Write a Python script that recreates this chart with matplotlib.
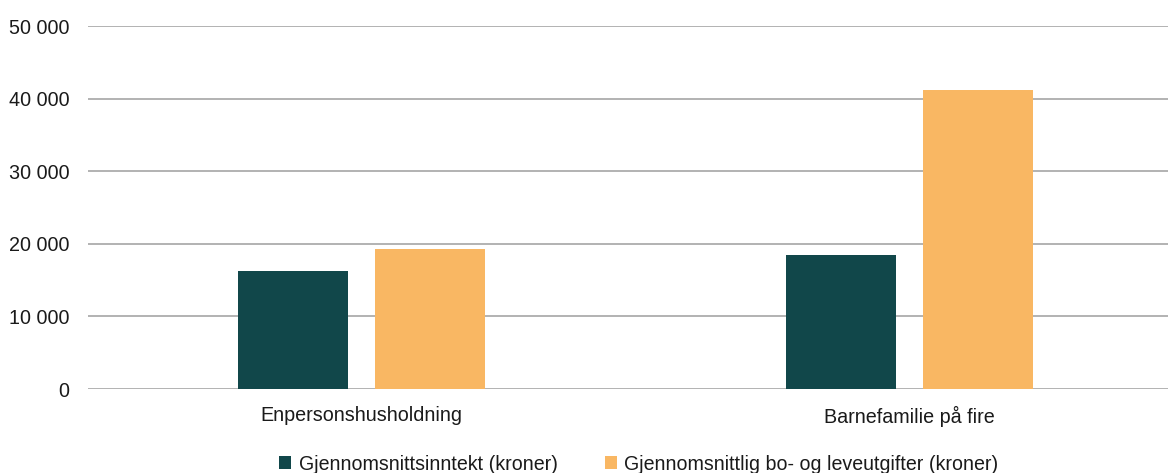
import matplotlib.pyplot as plt
from matplotlib.ticker import FuncFormatter
import numpy as np

categories = ["Enpersonshusholdning", "Barnefamilie på fire"]
income = [16300, 18500]
costs = [19300, 41200]
series_labels = ["Gjennomsnittsinntekt (kroner)", "Gjennomsnittlig bo- og leveutgifter (kroner)"]
yticks = [0, 10000, 20000, 30000, 40000, 50000]

plt.rcParams['font.family'] = ['Liberation Sans', 'DejaVu Sans']

W, H = 1168, 473
fig = plt.figure(figsize=(W / 100, H / 100), dpi=100)
ax = fig.add_axes([87.5 / W, 1 - 389 / H, 1096 / W, (389 - 26) / H])

x = np.arange(len(categories))
bw = 0.2007
off = 0.125
c_dark = "#11474A"
c_orange = "#F9B763"
ax.bar(x - off, income, width=bw, color=c_dark, label=series_labels[0], zorder=3)
ax.bar(x + off, costs, width=bw, color=c_orange, label=series_labels[1], zorder=3)

ax.set_xlim(-0.5, 1.5)
ax.set_ylim(0, 50000)
ax.set_yticks(yticks)
ax.yaxis.set_major_formatter(FuncFormatter(lambda v, p: f"{int(v):,}".replace(",", " ")))
ax.grid(axis='y', color='#a6a6a6', linewidth=1.2, zorder=0)
for s in ax.spines.values():
    s.set_visible(False)
txt = '#1a1a1a'
ax.tick_params(axis='y', length=0, pad=13, labelsize=14.2, labelcolor=txt)
ax.tick_params(axis='x', length=0, pad=12, labelsize=14.2, labelcolor=txt)
ax.set_xticks(x)
ax.set_xticklabels(categories)

leg = fig.legend(loc='center', bbox_to_anchor=(0.547, 1 - 464 / H), ncol=2, frameon=False,
                 fontsize=14.1, handlelength=0.6, handleheight=0.6, handletextpad=0.4,
                 columnspacing=2.4, labelcolor=txt)

fig.savefig("out.png", dpi=100)
